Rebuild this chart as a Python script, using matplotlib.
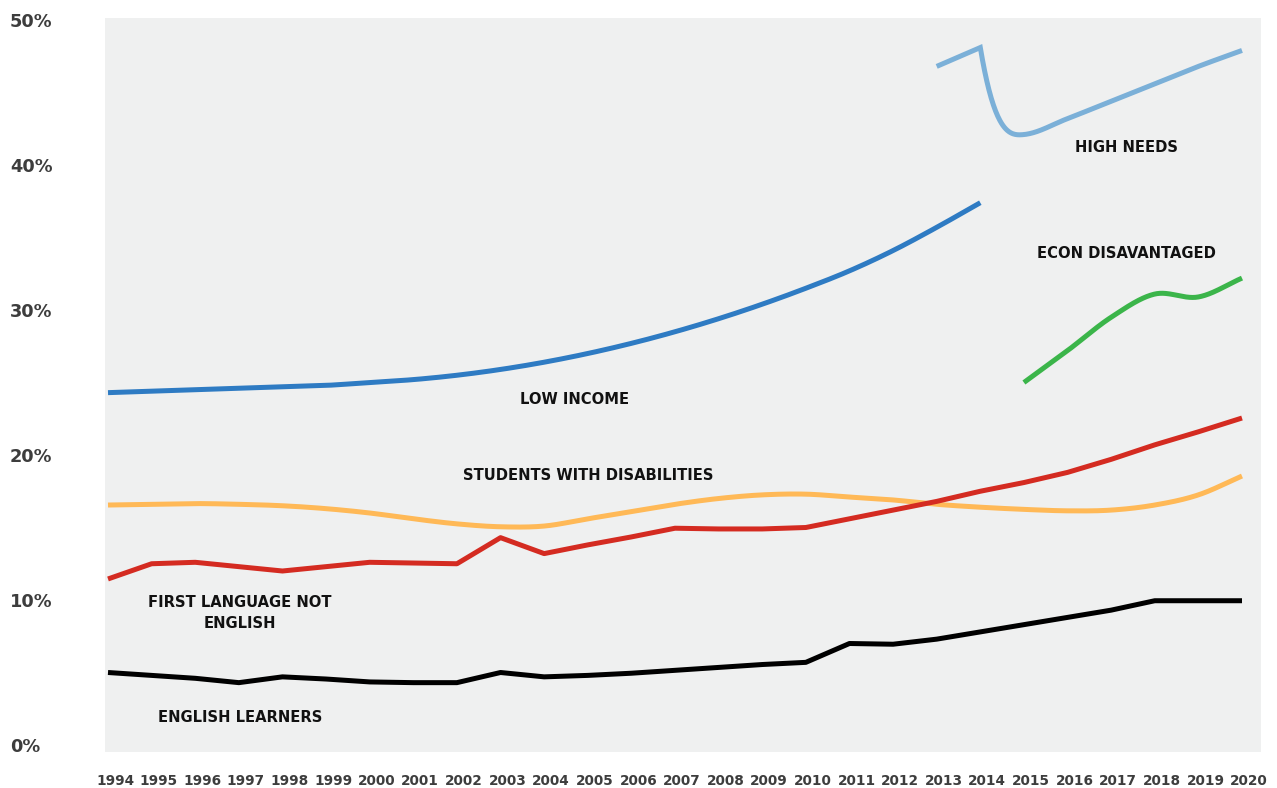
import numpy as np
import matplotlib
matplotlib.use("Agg")
import matplotlib.pyplot as plt
from matplotlib.transforms import ScaledTranslation

# ---------------- data ----------------
years = list(range(1994, 2021))

low_income_years = list(range(1994, 2015))
low_income = [24.3, 24.4, 24.5, 24.6, 24.7, 24.8, 25.0, 25.2, 25.5, 25.9, 26.4,
              27.0, 27.7, 28.5, 29.4, 30.4, 31.5, 32.7, 34.1, 35.7, 37.4]

high_needs_years = list(range(2013, 2021))
high_needs = [46.8, 48.1, 42.1, 43.2, 44.4, 45.6, 46.8, 47.9]

econ_years = list(range(2015, 2021))
econ_disadv = [25.0, 27.2, 29.5, 31.1, 30.9, 32.2]

swd = [16.55, 16.6, 16.65, 16.6, 16.5, 16.3, 16.0, 15.6, 15.25, 15.05, 15.1,
       15.6, 16.1, 16.6, 17.0, 17.25, 17.3, 17.1, 16.9, 16.6, 16.4, 16.25,
       16.15, 16.2, 16.55, 17.25, 18.55]

flne = [11.45, 12.5, 12.6, 12.3, 12.0, 12.3, 12.6, 12.55, 12.5, 14.3, 13.2,
        13.8, 14.35, 14.95, 14.9, 14.9, 15.0, 15.6, 16.2, 16.8, 17.5, 18.1,
        18.8, 19.7, 20.7, 21.6, 22.55]

ell = [5.0, 4.8, 4.6, 4.3, 4.7, 4.55, 4.35, 4.3, 4.3, 5.0, 4.7,
       4.8, 4.95, 5.15, 5.35, 5.55, 5.7, 7.0, 6.95, 7.3, 7.8, 8.3,
       8.8, 9.3, 9.95, 9.95, 9.95]

y_ticks = [0, 10, 20, 30, 40, 50]
y_tick_labels = ["0%", "10%", "20%", "30%", "40%", "50%"]

# ---------------- helpers (rendering smooth curves through data) ----------------
def cr_slopes(x, y):
    x = np.asarray(x, float); y = np.asarray(y, float)
    m = np.zeros_like(y)
    m[0] = (y[1] - y[0]) / (x[1] - x[0])
    m[-1] = (y[-1] - y[-2]) / (x[-1] - x[-2])
    m[1:-1] = (y[2:] - y[:-2]) / (x[2:] - x[:-2])
    return m

def hermite(x, y, m, n=60):
    x = np.asarray(x, float); y = np.asarray(y, float)
    xs, ys = [], []
    for k in range(len(x) - 1):
        h = x[k + 1] - x[k]
        t = np.linspace(0, 1, n, endpoint=(k == len(x) - 2))
        h00 = 2 * t**3 - 3 * t**2 + 1
        h10 = t**3 - 2 * t**2 + t
        h01 = -2 * t**3 + 3 * t**2
        h11 = t**3 - t**2
        xs.append(x[k] + t * h)
        ys.append(h00 * y[k] + h10 * h * m[k] + h01 * y[k + 1] + h11 * h * m[k + 1])
    return np.concatenate(xs), np.concatenate(ys)

def smooth(x, y):
    return hermite(x, y, cr_slopes(x, y))

# ---------------- figure ----------------
fig = plt.figure(figsize=(12.77, 7.88), dpi=100)
ax = fig.add_axes([105 / 1277, 36 / 788, (1261 - 105) / 1277, (752 - 18) / 788])
ax.set_facecolor("#eff0f0")
for s in ax.spines.values():
    s.set_visible(False)

lw = 3.6
cap = "butt"

# low income
xs, ys = smooth(low_income_years, low_income)
ax.plot(xs, ys, color="#2e7bc3", lw=lw, solid_capstyle=cap)

# high needs: straight rise to the 2014 peak, then a steep drop curving into 2015
hx = high_needs_years[1:]
hy = high_needs[1:]
hm = cr_slopes(hx, hy)
hm[0] = -18.0
hm[1] = 0.3
cx, cy = hermite(hx, hy, hm)
xs = np.concatenate([[high_needs_years[0]], cx])
ys = np.concatenate([[high_needs[0]], cy])
ax.plot(xs, ys, color="#7bb0d8", lw=lw, solid_capstyle=cap, solid_joinstyle="miter")

# econ disadvantaged
xs, ys = smooth(econ_years, econ_disadv)
ax.plot(xs, ys, color="#3bb54a", lw=lw, solid_capstyle=cap)

# students with disabilities
xs, ys = smooth(years, swd)
ax.plot(xs, ys, color="#ffb957", lw=lw, solid_capstyle=cap)

# first language not english
ax.plot(years, flne, color="#d42b21", lw=lw, solid_capstyle=cap)

# english learners
ax.plot(years, ell, color="#000000", lw=lw, solid_capstyle=cap)

# axes ranges
ax.set_xlim(1994 - 3 / 43.6, 2020 + 19 / 43.6)
ax.set_ylim(-7 / 14.5, 50 + 2 / 14.5)

ax.set_xticks(years)
ax.set_xticklabels([str(y) for y in years], fontsize=9.8, fontweight="bold", color="#3d3d3d")
ax.set_yticks(y_ticks)
ax.set_yticklabels(y_tick_labels, fontsize=12.8, fontweight="bold", color="#3d3d3d")
ax.tick_params(axis="both", length=0)
ax.tick_params(axis="x", pad=16)
ax.tick_params(axis="y", pad=68.4)
for lab in ax.get_yticklabels():
    lab.set_horizontalalignment("left")
for lab in ax.get_xticklabels():
    lab.set_transform(lab.get_transform() + ScaledTranslation(7 / 100, 0, fig.dpi_scale_trans))

# series labels
lab_kw = dict(fontsize=10.6, fontweight="bold", color="#111111", ha="center", va="center")
ax.text(2017.35, 41.2, "HIGH NEEDS", **lab_kw)
ax.text(2017.35, 33.9, "ECON DISAVANTAGED", **lab_kw)
ax.text(2004.7, 23.85, "LOW INCOME", **lab_kw)
ax.text(2005.0, 18.6, "STUDENTS WITH DISABILITIES", **lab_kw)
ax.text(1997.03, 9.1, "FIRST LANGUAGE NOT\nENGLISH", linespacing=1.55, **lab_kw)
ax.text(1997.03, 1.93, "ENGLISH LEARNERS", **lab_kw)

fig.savefig("out.png", dpi=100)
